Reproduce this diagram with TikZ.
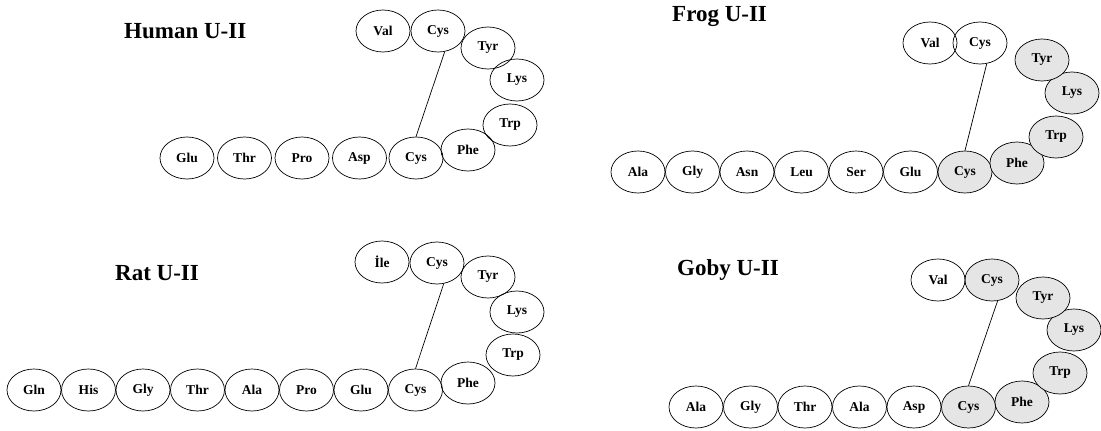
\documentclass[tikz,border=0pt]{standalone}
\usepackage{fontspec}
\setmainfont{Liberation Serif}
\usetikzlibrary{shapes.geometric}
\tikzset{
  aa/.style={ellipse, draw, line width=0.7pt, minimum width=54pt, minimum height=42pt,
    inner sep=0pt, font=\bfseries\fontsize{13.5}{13.5}\selectfont},
  sh/.style={fill=black!10},
  ttl/.style={anchor=west, inner sep=0pt, font=\bfseries\fontsize{23}{23}\selectfont},
  ss/.style={line width=0.7pt}
}
\begin{document}
\begin{tikzpicture}[x=1pt,y=-1pt]
\useasboundingbox (0,0) rectangle (1101,431);
% ---------- Human ----------
\node[ttl] (th) at (124,31) {Human U-II};
\node[aa] (h1) at (187,158) {Glu};
\node[aa] (h2) at (244.5,158) {Thr};
\node[aa] (h3) at (302,158) {Pro};
\node[aa] (h4) at (359.5,158) {Asp};
\node[aa] (h5) at (416,158) {Cys};
\node[aa] (h6) at (468,150) {Phe};
\node[aa] (h7) at (510,125) {Trp};
\node[aa] (h8) at (517,80) {Lys};
\node[aa] (h9) at (488,48) {Tyr};
\node[aa] (h10) at (438,31) {Cys};
\node[aa] (h11) at (383,31) {Val};
\draw[ss] (h10.-72) -- (h5.north);
% ---------- Frog ----------
\node[ttl] (tf) at (672,17) {Frog U-II};
\node[aa] (f1) at (638,172) {Ala};
\node[aa] (f2) at (692.5,172) {Gly};
\node[aa] (f3) at (747,172) {Asn};
\node[aa] (f4) at (801.5,172) {Leu};
\node[aa] (f5) at (856,172) {Ser};
\node[aa] (f6) at (910.5,172) {Glu};
\node[aa,sh] (f7) at (965,172) {Cys};
\node[aa,sh] (f8) at (1017,163) {Phe};
\node[aa,sh] (f9) at (1056,137) {Trp};
\node[aa,sh] (f10) at (1072,93) {Lys};
\node[aa,sh] (f11) at (1042,60) {Tyr};
\node[aa] (f12) at (980,43) {Cys};
\node[aa] (f13) at (930,43) {Val};
\draw[ss] (f12.-72) -- (f7.north);
% ---------- Rat ----------
\node[ttl] (tr) at (115,273) {Rat U-II};
\node[aa] (r1) at (34,390) {Gln};
\node[aa] (r2) at (88.5,390) {His};
\node[aa] (r3) at (143,390) {Gly};
\node[aa] (r4) at (197.5,390) {Thr};
\node[aa] (r5) at (252,390) {Ala};
\node[aa] (r6) at (306.5,390) {Pro};
\node[aa] (r7) at (361,390) {Glu};
\node[aa] (r8) at (415.5,390) {Cys};
\node[aa] (r9) at (468,383) {Phe};
\node[aa] (r10) at (513,355) {Trp};
\node[aa] (r11) at (517,312) {Lys};
\node[aa] (r12) at (488,277) {Tyr};
\node[aa] (r13) at (437,263) {Cys};
\node[aa] (r14) at (382,262) {İle};
\draw[ss] (r13.-72) -- (r8.north);
% ---------- Goby ----------
\node[ttl] (tg) at (677,270) {Goby U-II};
\node[aa] (g1) at (696,407) {Ala};
\node[aa] (g2) at (750.5,407) {Gly};
\node[aa] (g3) at (805,407) {Thr};
\node[aa] (g4) at (859.5,407) {Ala};
\node[aa] (g5) at (914,407) {Asp};
\node[aa,sh] (g6) at (968.5,407) {Cys};
\node[aa,sh] (g7) at (1022,402) {Phe};
\node[aa,sh] (g8) at (1060,373) {Trp};
\node[aa,sh] (g9) at (1074,330) {Lys};
\node[aa,sh] (g10) at (1043,298) {Tyr};
\node[aa,sh] (g11) at (992,280) {Cys};
\node[aa] (g12) at (938,280) {Val};
\draw[ss] (g11.-75) -- (g6.north);
\end{tikzpicture}
\end{document}
